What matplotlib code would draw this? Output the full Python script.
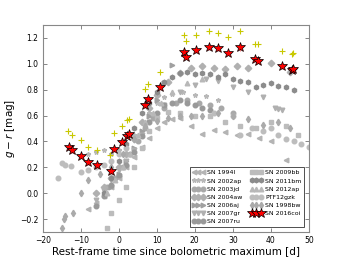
import numpy as np
import matplotlib
matplotlib.use('Agg')
import matplotlib.pyplot as plt

# SN 2016coi g-r colour (red stars) and the yellow crosses above it
coi_t = [-13.2, -12.2, -10.0, -8.0, -5.8, -2.0, -1.2, 0.8, 2.2, 2.7, 6.8, 7.8,
         10.8, 17.2, 17.8, 20.2, 23.8, 26.0, 28.8, 32.0, 35.8, 36.7, 42.8,
         45.6, 45.9]
coi_gr = [0.36, 0.33, 0.29, 0.24, 0.215, 0.17, 0.34, 0.395, 0.445, 0.46, 0.68,
          0.725, 0.82, 1.095, 1.055, 1.105, 1.13, 1.12, 1.085, 1.13, 1.035,
          1.025, 0.98, 0.955, 0.96]
coi_err = [0.02, 0.02, 0.02, 0.02, 0.02, 0.02, 0.02, 0.02, 0.02, 0.02, 0.02,
           0.02, 0.02, 0.025, 0.02, 0.02, 0.025, 0.02, 0.02, 0.03, 0.02, 0.02,
           0.02, 0.02, 0.02]
plus_t = [-13.4, -12.2, -10.0, -8.0, -5.8, -2.2, -1.2, 0.8, 2.2, 2.7, 6.8,
          7.8, 10.8, 17.2, 17.8, 20.2, 23.8, 26.0, 28.8, 32.0, 35.8, 36.7,
          42.8, 45.6, 45.9]
plus_gr = [0.48, 0.45, 0.41, 0.36, 0.335, 0.295, 0.465, 0.52, 0.565, 0.575,
           0.805, 0.845, 0.94, 1.22, 1.18, 1.225, 1.25, 1.24, 1.205, 1.25,
           1.155, 1.15, 1.10, 1.075, 1.08]

# comparison SNe: name, marker, grey, times, g-r
comparison = [
    ('SN 1994I', '<', '#b4b4b4',
     [-8, -6, -4, -2, 0, 2, 4, 6, 8, 10, 12, 14, 16, 19, 22, 25, 28, 31, 34,
      37, 40, 44],
     [-0.12, -0.08, -0.02, 0.05, 0.12, 0.2, 0.28, 0.36, 0.43, 0.5, 0.55, 0.57,
      0.58, 0.52, 0.46, 0.49, 0.47, 0.45, 0.46, 0.43, 0.4, 0.26]),
    ('SN 2002ap', '*', '#b8b8b8',
     [-8, -6, -4, -2, 0, 2, 4, 6, 8, 10, 12, 14, 17, 20, 23, 26],
     [0.3, 0.32, 0.33, 0.3, 0.33, 0.38, 0.45, 0.55, 0.62, 0.7, 0.74, 0.77,
      0.78, 0.76, 0.75, 0.72]),
    ('SN 2003jd', 'o', '#a8a8a8',
     [-3, -1, 1, 3, 5, 7, 9, 12, 15, 18, 21, 24, 27, 30],
     [0.05, 0.12, 0.2, 0.3, 0.4, 0.5, 0.58, 0.66, 0.7, 0.72, 0.7, 0.68, 0.66,
      0.62]),
    ('SN 2004aw', 'D', '#b0b0b0',
     [-6, -4, -2, 0, 2, 4, 6, 8, 10, 13, 16, 19, 22, 25, 28, 31, 34, 40, 45],
     [0.0, 0.05, 0.12, 0.2, 0.3, 0.42, 0.55, 0.66, 0.76, 0.86, 0.93, 0.97,
      0.98, 0.97, 0.96, 0.98, 0.97, 1.01, 0.94]),
    ('SN 2006aj', '>', '#a0a0a0',
     [-2, 0, 2, 4, 6, 8, 10, 12, 14],
     [0.05, 0.15, 0.25, 0.35, 0.48, 0.6, 0.72, 0.85, 0.99]),
    ('SN 2007gr', 'v', '#b0b0b0',
     [-6, -4, -2, 0, 2, 4, 6, 8, 12, 16, 20, 23, 26, 30, 34, 38, 41, 42, 43],
     [-0.05, 0.02, 0.1, 0.18, 0.25, 0.33, 0.45, 0.55, 0.68, 0.78, 0.84, 0.88,
      0.87, 0.82, 0.78, 0.74, 0.66, 0.65, 0.64]),
    ('SN 2007ru', 'o', '#999999',
     [-6, -4, -2, 0, 2, 4, 6, 8, 10, 12, 14, 16, 18, 20, 22, 24],
     [-0.1, -0.02, 0.06, 0.14, 0.22, 0.32, 0.44, 0.55, 0.62, 0.68, 0.7, 0.72,
      0.7, 0.68, 0.66, 0.64]),
    ('SN 2009bb', 's', '#bcbcbc',
     [-3, -2, 0, 2, 4, 6, 8, 10, 13, 16, 20, 24, 28, 32, 36, 40, 44, 47],
     [-0.27, -0.15, -0.05, 0.05, 0.2, 0.35, 0.48, 0.58, 0.63, 0.62, 0.6, 0.6,
      0.55, 0.52, 0.5, 0.55, 0.52, 0.45]),
    ('SN 2011bm', 'h', '#8c8c8c',
     [-4, -2, 0, 2, 4, 6, 8, 10, 12, 14, 16, 18, 20, 22, 24, 26, 28, 30, 32,
      34, 36, 38, 40, 42, 44, 46],
     [0.0, 0.12, 0.25, 0.38, 0.5, 0.62, 0.7, 0.78, 0.86, 0.9, 0.93, 0.94,
      0.92, 0.93, 0.92, 0.9, 0.92, 0.88, 0.87, 0.86, 0.82, 0.84, 0.85, 0.83,
      0.82, 0.8]),
    ('SN 2012ap', '^', '#b8b8b8',
     [-3, -1, 1, 3, 5, 7, 9, 11, 14, 18, 22],
     [0.0, 0.1, 0.2, 0.3, 0.45, 0.55, 0.62, 0.7, 0.78, 0.85, 0.88]),
    ('PTF12gzk', 'o', '#bdbdbd',
     [-16, -15, -14, -12.5, -10, -8, -6, -4, -2, 0, 2, 25, 30, 32, 35, 38, 40,
      42, 44, 46, 48, 50],
     [0.12, 0.23, 0.22, 0.21, 0.16, 0.18, 0.2, 0.22, 0.25, 0.3, 0.35, 0.62,
      0.6, 0.45, 0.5, 0.48, 0.5, 0.45, 0.42, 0.4, 0.38, 0.36]),
    ('SN 1998bw', 'd', '#aaaaaa',
     [-15, -14.5, -14, -12, -10, -8, -5, -2, 1, 4, 7, 10, 13, 16, 19, 22, 26,
      30, 34, 38, 42, 45],
     [-0.27, -0.2, -0.18, -0.15, 0.0, 0.1, 0.15, 0.2, 0.3, 0.42, 0.52, 0.56,
      0.58, 0.6, 0.6, 0.6, 0.62, 0.6, 0.57, 0.53, 0.55, 0.5]),
]

fig = plt.figure(figsize=(3.44, 2.58), dpi=100)
ax = fig.add_axes([0.124, 0.101, 0.774, 0.802])

for name, mk, col, t, gr in comparison:
    ax.plot(t, gr, linestyle='none', marker=mk, color=col, mec=col,
            markersize=3.3, label=name)

ax.plot(plus_t, plus_gr, linestyle='none', marker='+', color='#c8c800',
        markersize=5, mew=0.8)
ax.errorbar(coi_t, coi_gr, yerr=coi_err, fmt='none', ecolor='#ff8080',
            elinewidth=0.8, capsize=0, zorder=4)
ax.plot(coi_t, coi_gr, linestyle='none', marker='*', color='red', mec='black',
        mew=0.5, markersize=7.5, label='SN 2016coi', zorder=5)

ax.set_xlim(-20, 50)
ax.set_ylim(-0.3, 1.3)
ax.set_yticks([-0.2, 0.0, 0.2, 0.4, 0.6, 0.8, 1.0, 1.2])
ax.set_xlabel('Rest-frame time since bolometric maximum [d]', fontsize=7.5,
              labelpad=1)
ax.set_ylabel('$g\u2212r$ [mag]', fontsize=7.5, labelpad=2)
ax.tick_params(direction='in', top=True, right=True, labelsize=5.5,
               length=3, width=0.5, color='#555555', pad=3)
for s in ax.spines.values():
    s.set_color('#888888')
    s.set_linewidth(0.8)

leg = ax.legend(loc='lower right', ncol=2, numpoints=3, fontsize=4.5,
                frameon=True, fancybox=False, borderaxespad=0.8,
                handletextpad=0.4, columnspacing=1.2, labelspacing=0.45,
                handlelength=2.0, borderpad=0.4)
leg.get_frame().set_edgecolor('black')
leg.get_frame().set_linewidth(0.6)

fig.savefig('out.png', dpi=100)
